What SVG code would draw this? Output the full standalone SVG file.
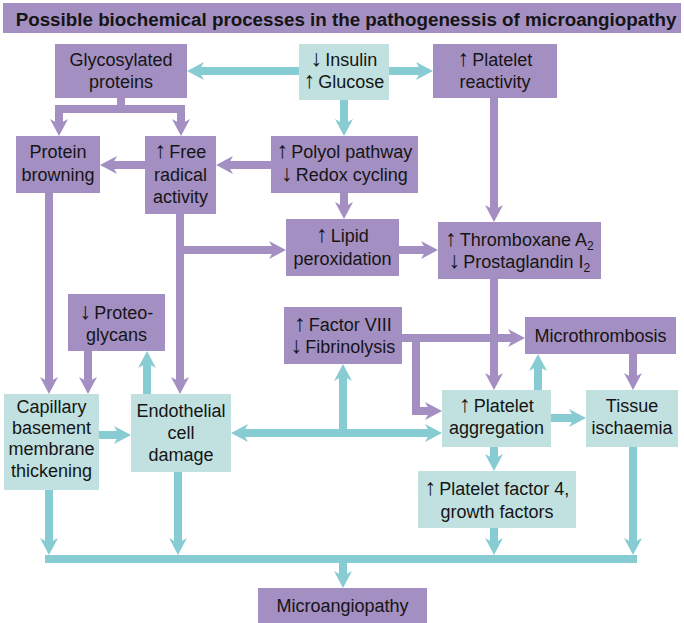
<svg xmlns="http://www.w3.org/2000/svg" width="684" height="623" viewBox="0 0 684 623">
<style>
.p{fill:#a48fc2}
.t{fill:#c0e1e0}
.lp{stroke:#a48fc2;stroke-width:8;fill:none;stroke-linejoin:miter}
.lt{stroke:#88ccd3;stroke-width:8;fill:none;stroke-linejoin:miter}
text{font-family:"Liberation Sans",Arial,sans-serif;font-size:18px;fill:#151515;text-anchor:middle}
.title{font-weight:bold;font-size:18.8px}
.sub{font-size:12px}
.ar{font-size:23px}
</style>
<defs>
<marker id="ap" markerUnits="userSpaceOnUse" markerWidth="30" markerHeight="30" viewBox="-10 -15 30 30" refX="0" refY="0" orient="auto-start-reverse" overflow="visible"><path d="M10,0 L-7,-9 L-2,0 L-7,9 Z" fill="#a48fc2"/></marker>
<marker id="at" markerUnits="userSpaceOnUse" markerWidth="30" markerHeight="30" viewBox="-10 -15 30 30" refX="0" refY="0" orient="auto-start-reverse" overflow="visible"><path d="M10,0 L-7,-9 L-2,0 L-7,9 Z" fill="#88ccd3"/></marker>
</defs>

<g id="title">
<rect class="p" x="3" y="3" width="678" height="30"/>
<text class="title" x="346" y="26">Possible biochemical processes in the pathogenessis of microangiopathy</text>
</g>

<g id="connectors">
<path class="lt" d="M299,71 H197" marker-end="url(#at)"/>
<path class="lt" d="M389,71 H423" marker-end="url(#at)"/>
<path class="lt" d="M344,100 V126" marker-end="url(#at)"/>
<path class="lt" d="M99,435 H121" marker-end="url(#at)"/>
<path class="lt" d="M147,394 V361" marker-end="url(#at)"/>
<path class="lt" d="M241,433 H432" marker-start="url(#at)" marker-end="url(#at)"/>
<path class="lt" d="M343,433 V374" marker-end="url(#at)"/>
<path class="lt" d="M538,390 V364" marker-end="url(#at)"/>
<path class="lt" d="M551,418 H576" marker-end="url(#at)"/>
<path class="lt" d="M494,447 V461" marker-end="url(#at)"/>
<path class="lt" d="M49,490 V545" marker-end="url(#at)"/>
<path class="lt" d="M178,472 V545" marker-end="url(#at)"/>
<path class="lt" d="M494,528 V545" marker-end="url(#at)"/>
<path class="lt" d="M633,447 V545" marker-end="url(#at)"/>
<rect x="45" y="555" width="592" height="8" fill="#88ccd3"/>
<path class="lt" d="M343,563 V578" marker-end="url(#at)"/>
<path class="lp" d="M121,98 V109 H59 V126" marker-end="url(#ap)"/>
<path class="lp" d="M121,109 H181 V126" marker-end="url(#ap)"/>
<path class="lp" d="M145,165 H110" marker-end="url(#ap)"/>
<path class="lp" d="M271,165 H226" marker-end="url(#ap)"/>
<path class="lp" d="M344,193 V209" marker-end="url(#ap)"/>
<path class="lp" d="M180,214 V384" marker-end="url(#ap)"/>
<path class="lp" d="M176,250 H276" marker-end="url(#ap)"/>
<path class="lp" d="M399,250 H428" marker-end="url(#ap)"/>
<path class="lp" d="M494,98 V212" marker-end="url(#ap)"/>
<path class="lp" d="M494,279 V380" marker-end="url(#ap)"/>
<path class="lp" d="M49,193 V384" marker-end="url(#ap)"/>
<path class="lp" d="M88,351 V384" marker-end="url(#ap)"/>
<path class="lp" d="M402,338 H515" marker-end="url(#ap)"/>
<path class="lp" d="M416,338 V411 H432" marker-end="url(#ap)"/>
<path class="lp" d="M633,354 V380" marker-end="url(#ap)"/>
</g>

<g id="glycosylated">
<rect class="p" x="55" y="44" width="132" height="54"/>
<text x="121" y="66">Glycosylated</text>
<text x="121" y="88">proteins</text>
</g>
<g id="insulin">
<rect class="t" x="299" y="44" width="90" height="56"/>
<text x="344" y="66"><tspan class="ar">↓</tspan><tspan dx="3">Insulin</tspan></text>
<text x="344" y="88"><tspan class="ar">↑</tspan><tspan dx="3">Glucose</tspan></text>
</g>
<g id="platelet-reactivity">
<rect class="p" x="433" y="44" width="124" height="54"/>
<text x="495" y="66"><tspan class="ar">↑</tspan><tspan dx="3">Platelet</tspan></text>
<text x="495" y="88">reactivity</text>
</g>
<g id="protein-browning">
<rect class="p" x="16" y="136" width="84" height="57"/>
<text x="58" y="158">Protein</text>
<text x="58" y="181">browning</text>
</g>
<g id="free-radical">
<rect class="p" x="145" y="136" width="71" height="78"/>
<text x="180.5" y="158"><tspan class="ar">↑</tspan><tspan dx="3">Free</tspan></text>
<text x="180.5" y="181">radical</text>
<text x="180.5" y="203">activity</text>
</g>
<g id="polyol">
<rect class="p" x="271" y="136" width="147" height="57"/>
<text x="344.5" y="158"><tspan class="ar">↑</tspan><tspan dx="3">Polyol pathway</tspan></text>
<text x="344.5" y="181"><tspan class="ar">↓</tspan><tspan dx="3">Redox cycling</tspan></text>
</g>
<g id="lipid">
<rect class="p" x="286" y="219" width="113" height="57"/>
<text x="342.5" y="242"><tspan class="ar">↑</tspan><tspan dx="3">Lipid</tspan></text>
<text x="342.5" y="265">peroxidation</text>
</g>
<g id="thromboxane">
<rect class="p" x="438" y="222" width="163" height="57"/>
<text x="519.5" y="246"><tspan class="ar">↑</tspan><tspan dx="3">Thromboxane A</tspan><tspan class="sub" dy="4">2</tspan></text>
<text x="519.5" y="268"><tspan class="ar">↓</tspan><tspan dx="3">Prostaglandin I</tspan><tspan class="sub" dy="4">2</tspan></text>
</g>
<g id="proteoglycans">
<rect class="p" x="68" y="294" width="97" height="57"/>
<text x="116.5" y="319"><tspan class="ar">↓</tspan><tspan dx="3">Proteo-</tspan></text>
<text x="116.5" y="341">glycans</text>
</g>
<g id="factor-viii">
<rect class="p" x="284" y="307" width="118" height="57"/>
<text x="343" y="331"><tspan class="ar">↑</tspan><tspan dx="3">Factor VIII</tspan></text>
<text x="343" y="353"><tspan class="ar">↓</tspan><tspan dx="3">Fibrinolysis</tspan></text>
</g>
<g id="microthrombosis">
<rect class="p" x="525" y="317" width="151" height="37"/>
<text x="600.5" y="342">Microthrombosis</text>
</g>
<g id="capillary">
<rect class="t" x="4" y="394" width="95" height="96"/>
<text x="51.5" y="413">Capillary</text>
<text x="51.5" y="434">basement</text>
<text x="51.5" y="455">membrane</text>
<text x="51.5" y="477">thickening</text>
</g>
<g id="endothelial">
<rect class="t" x="131" y="394" width="100" height="78"/>
<text x="181" y="417">Endothelial</text>
<text x="181" y="439">cell</text>
<text x="181" y="461">damage</text>
</g>
<g id="platelet-aggregation">
<rect class="t" x="442" y="390" width="109" height="57"/>
<text x="496.5" y="412"><tspan class="ar">↑</tspan><tspan dx="3">Platelet</tspan></text>
<text x="496.5" y="434">aggregation</text>
</g>
<g id="tissue-ischaemia">
<rect class="t" x="586" y="390" width="92" height="57"/>
<text x="632" y="412">Tissue</text>
<text x="632" y="434">ischaemia</text>
</g>
<g id="platelet-factor">
<rect class="t" x="418" y="471" width="158" height="57"/>
<text x="497" y="495"><tspan class="ar">↑</tspan><tspan dx="3">Platelet factor 4,</tspan></text>
<text x="497" y="518">growth factors</text>
</g>
<g id="microangiopathy">
<rect class="p" x="258" y="588" width="169" height="35"/>
<text x="342.5" y="612">Microangiopathy</text>
</g>
</svg>
